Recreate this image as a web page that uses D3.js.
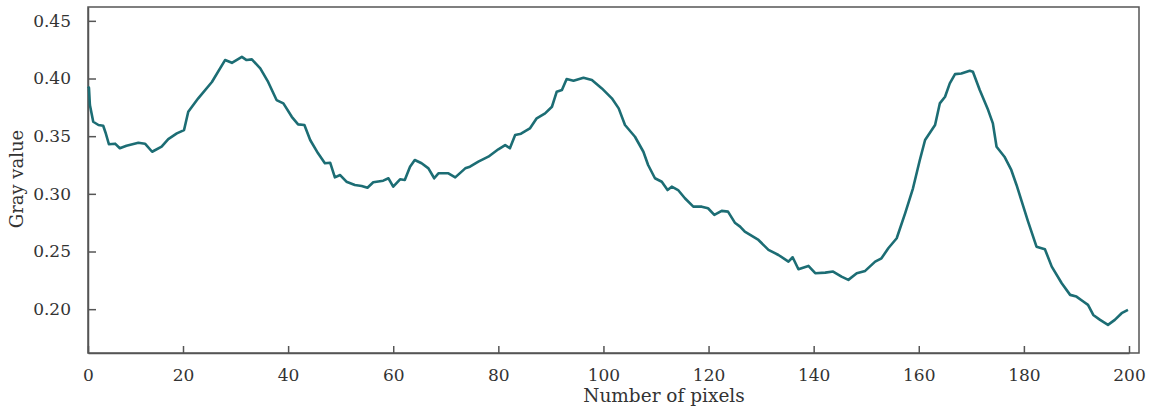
<!DOCTYPE html>
<html>
<head>
<meta charset="utf-8">
<script src="https://cdn.jsdelivr.net/npm/d3@7"></script>
<style>
  body { margin: 0; background: #fff; }
  svg text { font-family: "DejaVu Serif", "Liberation Serif", serif; fill: #333; }
</style>
</head>
<body>
<svg id="chart" width="1155" height="407"></svg>
<script>
// pixel index along the profile
const pixelIndex = [
  0, 0.2, 0.4, 1.1, 2.2, 3.2, 3.7, 4.4, 5.7, 6.7, 8.1, 10.6, 12.0, 13.5, 15.5, 16.9, 18.7,
  20.2, 21.0, 22.9, 25.5, 28.0, 29.3, 31.2, 32.1, 33.1, 34.7, 36.2, 37.8, 39.1, 40.7, 41.9,
  43.1, 44.2, 45.7, 47.0, 48.0, 48.9, 49.9, 51.1, 52.7, 54.0, 55.1, 56.2, 58.1, 59.1, 60.0,
  61.3, 62.2, 63.2, 64.1, 65.4, 66.7, 67.8, 68.6, 70.5, 71.8, 73.7, 74.6, 76.2, 78.1, 80.0,
  81.3, 82.2, 83.2, 84.1, 84.4, 86.0, 87.3, 88.9, 90.2, 91.1, 92.1, 93.0, 94.3, 96.2, 97.8,
  99.7, 101.6, 102.9, 104.1, 106.0, 107.6, 108.5, 109.8, 111.1, 112.2, 113.0, 114.2, 115.5,
  117.1, 118.7, 119.9, 121.1, 122.5, 123.7, 125.0, 126.0, 126.9, 129.5, 131.4, 133.3, 135.2,
  136.0, 137.1, 139.0, 140.3, 142.2, 143.7, 145.3, 146.6, 148.2, 149.8, 151.7, 152.9, 154.2,
  155.8, 157.4, 158.9, 160.2, 161.2, 163.1, 164.0, 165.0, 165.9, 166.9, 168.1, 169.7, 170.3,
  171.6, 173.2, 174.1, 174.8, 176.3, 177.6, 178.6, 179.6, 180.8, 182.4, 184.0, 185.3, 187.2,
  188.8, 190.0, 191.3, 192.2, 193.2, 194.5, 196.0, 197.3, 198.6, 199.8
];

// gray value
const grayValues = [
  0.393, 0.392, 0.377, 0.3625, 0.3597, 0.359, 0.353, 0.343, 0.3435, 0.3395, 0.3417, 0.3443, 0.3435, 0.3365, 0.341, 0.3475, 0.3524,
  0.3553, 0.3712, 0.3828, 0.397, 0.416, 0.4136, 0.4188, 0.416, 0.4166, 0.4088, 0.397, 0.3813, 0.3784, 0.3668, 0.3602,
  0.3597, 0.3467, 0.3351, 0.3265, 0.327, 0.3143, 0.3163, 0.3105, 0.3077, 0.3068, 0.3053, 0.31, 0.3114, 0.3135, 0.3062,
  0.3126, 0.312, 0.3235, 0.3293, 0.3265, 0.3221, 0.3135, 0.3178, 0.3178, 0.3143, 0.3221, 0.3235, 0.3279, 0.3322, 0.3386,
  0.3423, 0.3395, 0.351, 0.3519, 0.3524, 0.3567, 0.3655, 0.3698, 0.3755, 0.3885, 0.39, 0.3995, 0.398, 0.4006, 0.3986,
  0.3914, 0.3828, 0.3741, 0.3597, 0.3495, 0.3365, 0.325, 0.3135, 0.3105, 0.3033, 0.3062, 0.3033, 0.2962,
  0.2889, 0.2889, 0.2875, 0.2817, 0.2852, 0.2846, 0.275, 0.2716, 0.2672, 0.26, 0.2514, 0.247, 0.2412,
  0.245, 0.2346, 0.2375, 0.2312, 0.2317, 0.2326, 0.2282, 0.2254, 0.2312, 0.2332, 0.2412, 0.2441, 0.2528,
  0.2615, 0.2831, 0.3048, 0.3293, 0.3467, 0.3597, 0.3784, 0.3842, 0.3958, 0.4038, 0.4044, 0.4067, 0.4058,
  0.39, 0.3726, 0.3611, 0.3408, 0.3322, 0.3207, 0.3077, 0.2932, 0.2759, 0.2542, 0.252, 0.2369, 0.2225,
  0.2124, 0.2109, 0.2066, 0.2037, 0.195, 0.1907, 0.1864, 0.1907, 0.1965, 0.1994
];

const xTicks = [0, 20, 40, 60, 80, 100, 120, 140, 160, 180, 200];
const yTicks = [0.20, 0.25, 0.30, 0.35, 0.40, 0.45];

const data = pixelIndex.map((x, i) => ({ x, y: grayValues[i] }));

const svg = d3.select("#chart");
const plotLeft = 88, plotRight = 1139, plotTop = 7, plotBottom = 353;

// the original x axis is a bit squeezed between 0 and 20
const x = d3.scaleLinear().domain([0, 20, 200]).range([plotLeft, 183, 1129]);
const y = d3.scaleLinear().domain([0.162, 0.462]).range([plotBottom, plotTop]);

const axisColor = "#555";

// frame
svg.append("rect")
  .attr("x", plotLeft).attr("y", plotTop)
  .attr("width", plotRight - plotLeft).attr("height", plotBottom - plotTop)
  .attr("fill", "none").attr("stroke", axisColor).attr("stroke-width", 1.5);

const xAxis = svg.append("g")
  .attr("transform", `translate(0,${plotBottom})`)
  .call(d3.axisBottom(x).tickValues(xTicks).tickFormat(d3.format("d")).tickSizeInner(-7).tickSizeOuter(0).tickPadding(16));

const yAxis = svg.append("g")
  .attr("transform", `translate(${plotLeft},0)`)
  .call(d3.axisLeft(y).tickValues(yTicks).tickFormat(d3.format(".2f")).tickSizeInner(-8).tickSizeOuter(0).tickPadding(17));

[xAxis, yAxis].forEach(g => {
  g.select(".domain").attr("stroke", axisColor).attr("stroke-width", 1.5);
  g.selectAll(".tick line").attr("stroke", axisColor).attr("stroke-width", 1.5);
  g.selectAll(".tick text")
    .attr("font-family", "DejaVu Serif, serif")
    .attr("font-size", 17)
    .attr("fill", "#333");
});

// the profile line
const line = d3.line()
  .x(d => x(d.x))
  .y(d => y(d.y));

svg.append("path")
  .datum(data)
  .attr("fill", "none")
  .attr("stroke", "#1c6d74")
  .attr("stroke-width", 2.6)
  .attr("stroke-linejoin", "round")
  .attr("d", line);

// axis titles
svg.append("text")
  .attr("x", 664).attr("y", 402)
  .attr("text-anchor", "middle")
  .attr("font-size", 18.5)
  .text("Number of pixels");

svg.append("text")
  .attr("transform", "translate(23,179) rotate(-90)")
  .attr("text-anchor", "middle")
  .attr("font-size", 18)
  .text("Gray value");
</script>
</body>
</html>
